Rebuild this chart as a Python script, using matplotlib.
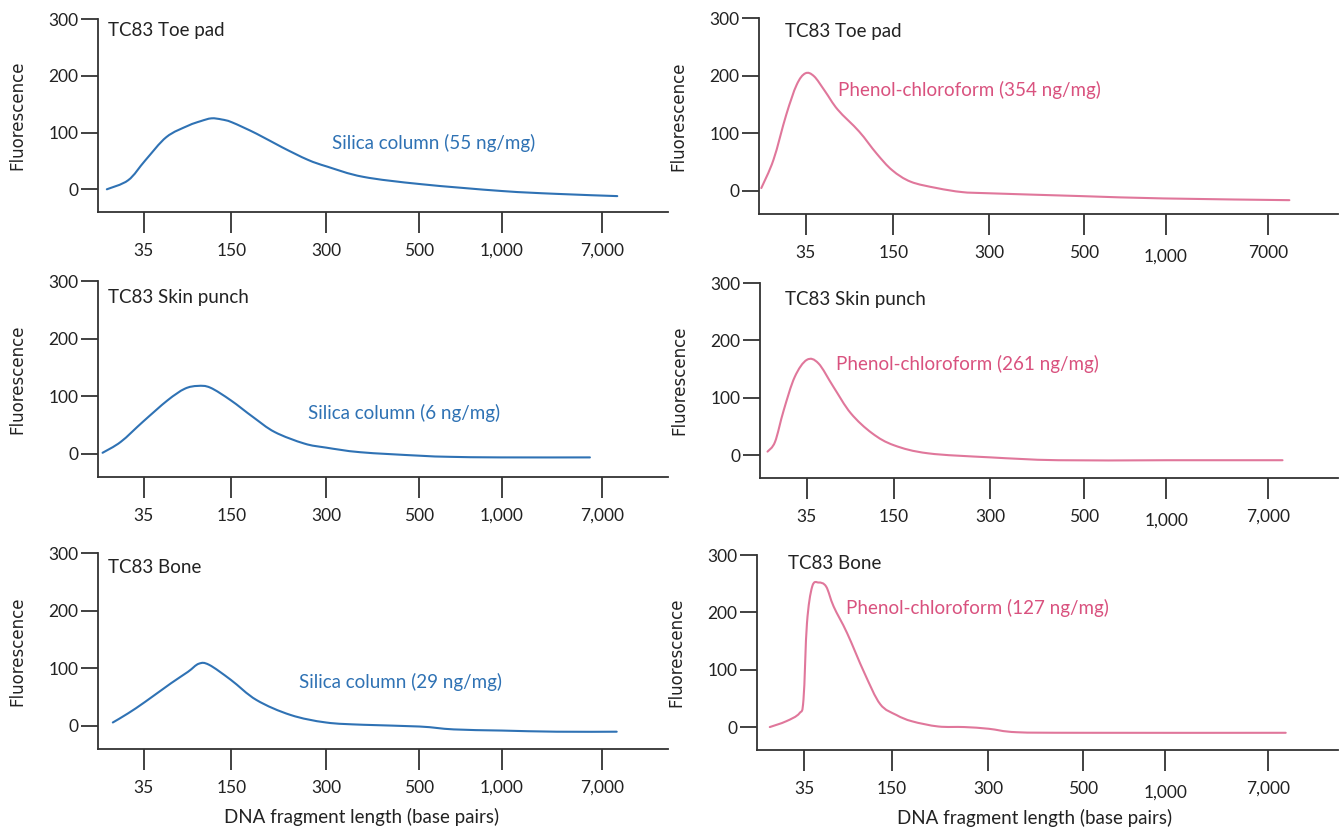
import matplotlib.pyplot as plt
from matplotlib.path import Path
from matplotlib.patches import PathPatch
from matplotlib.transforms import ScaledTranslation

plt.rcParams['font.family'] = ['Lato', 'DejaVu Sans']

# x positions are in panel units (axis runs 0..10), ticks are categorical labels
tick_pos_left = [0.80, 2.34, 4.0, 5.64, 7.08, 8.85]
tick_pos_right = [0.81, 2.32, 3.98, 5.61, 7.03, 8.79]
tick_labels = ['35', '150', '300', '500', '1,000', '7,000']
tick_labels_top_right = ['35', '150', '300', '500', '1,000', '7000']

y_ticks = [0, 100, 200, 300]

# Silica column curves (left column)
toe_silica_x = [0.155, 0.53, 0.83, 1.20, 1.58, 1.80, 1.99, 2.17, 2.35, 2.78, 3.23, 3.68,
                4.02, 4.65, 5.67, 7.08, 8.03, 9.11]
toe_silica_y = [0, 16, 51, 92, 112, 120, 125, 123, 118, 98, 74, 52, 40, 22, 9, -3, -8, -12]

skin_silica_x = [0.08, 0.40, 0.79, 1.22, 1.52, 1.75, 1.97, 2.33, 2.72, 3.10, 3.62, 4.0,
                 4.6, 5.63, 6.17, 7.07, 8.63]
skin_silica_y = [2, 21, 56, 93, 113, 118, 115, 93, 64, 38, 18, 11, 3, -3, -5, -6, -6]

bone_silica_x = [0.26, 0.53, 0.83, 1.28, 1.58, 1.77, 1.95, 2.33, 2.78, 3.38, 4.0, 4.66,
                 5.64, 6.24, 7.08, 8.05, 9.10]
bone_silica_y = [6, 22, 42, 74, 94, 108, 106, 80, 45, 19, 6, 2, -1, -6, -8, -10, -10]

# Phenol-chloroform curves (right column)
toe_phenol_x = [0.04, 0.25, 0.47, 0.65, 0.80, 0.95, 1.14, 1.36, 1.73, 2.03, 2.30, 2.62,
                3.07, 3.51, 3.96, 5.58, 6.99, 9.16]
toe_phenol_y = [5, 54, 132, 184, 204, 199, 173, 141, 103, 65, 36, 16, 5, -2, -4, -9, -13, -16]

skin_phenol_x = [0.13, 0.26, 0.41, 0.60, 0.81, 1.01, 1.27, 1.57, 1.94, 2.32, 2.91, 3.98,
                 5.16, 7.05, 9.04]
skin_phenol_y = [6, 23, 78, 136, 166, 160, 119, 73, 38, 17, 3, -4, -9, -9, -9]

bone_phenol_x = [0.22, 0.50, 0.73, 0.80, 0.86, 0.95, 1.06, 1.19, 1.32, 1.55, 1.85, 2.12,
                 2.40, 2.67, 3.12, 3.57, 3.99, 4.47, 5.62, 9.10]
bone_phenol_y = [0, 10, 24, 48, 181, 245, 252, 245, 210, 164, 94, 40, 21, 10, 1, 0, -3,
                 -9, -10, -10]

sample_names = ['TC83 Toe pad', 'TC83 Skin punch', 'TC83 Bone']
silica_labels = ['Silica column (55 ng/mg)', 'Silica column (6 ng/mg)',
                 'Silica column (29 ng/mg)']
phenol_labels = ['Phenol-chloroform (354 ng/mg)', 'Phenol-chloroform (261 ng/mg)',
                 'Phenol-chloroform (127 ng/mg)']

blue = '#2f72b4'
pink = '#e0779b'
pink_text = '#d9527f'
dark = '#333333'
text_c = '#222222'


def smooth_path(x, y):
    # Catmull-Rom through the read points, drawn as cubic bezier segments
    pts = list(zip(x, y))
    verts = [pts[0]]
    codes = [Path.MOVETO]
    n = len(pts)
    for i in range(n - 1):
        p0 = pts[i - 1] if i > 0 else pts[i]
        p1 = pts[i]
        p2 = pts[i + 1]
        p3 = pts[i + 2] if i + 2 < n else pts[i + 1]
        c1 = (p1[0] + (p2[0] - p0[0]) / 6, p1[1] + (p2[1] - p0[1]) / 6)
        c2 = (p2[0] - (p3[0] - p1[0]) / 6, p2[1] - (p3[1] - p1[1]) / 6)
        verts += [c1, c2, p2]
        codes += [Path.CURVE4] * 3
    return Path(verts, codes)


W, H = 1341, 830
fig = plt.figure(figsize=(W / 100, H / 100), dpi=100)

# panel boxes in pixels: left, right, top, bottom
boxes = [
    [(98, 668, 19, 212), (759, 1338, 18, 214)],
    [(98, 668, 281, 477), (760, 1338, 283, 478)],
    [(98, 668, 553, 749), (757, 1338, 555, 750)],
]

curves = [
    [(toe_silica_x, toe_silica_y), (toe_phenol_x, toe_phenol_y)],
    [(skin_silica_x, skin_silica_y), (skin_phenol_x, skin_phenol_y)],
    [(bone_silica_x, bone_silica_y), (bone_phenol_x, bone_phenol_y)],
]

# annotation spots (panel units, data y)
name_pos = [[(0.18, 280), (0.45, 276)], [(0.18, 272), (0.43, 272)], [(0.18, 274), (0.53, 286)]]
method_pos = [[(4.1, 81), (1.36, 175)], [(3.68, 71), (1.31, 158)], [(3.53, 76), (1.53, 208)]]

for r in range(3):
    for c in range(2):
        l, rt, t, b = boxes[r][c]
        ax = fig.add_axes([l / W, 1 - b / H, (rt - l) / W, (b - t) / H])
        x, y = curves[r][c]
        color = blue if c == 0 else pink
        ax.add_patch(PathPatch(smooth_path(x, y), fill=False, edgecolor=color, lw=1.5,
                               capstyle='round', joinstyle='round'))

        ax.set_xlim(0, 10)
        ax.set_ylim(-40, 300)
        for s in ['top', 'right']:
            ax.spines[s].set_visible(False)
        for s in ['left', 'bottom']:
            ax.spines[s].set_color(dark)
            ax.spines[s].set_linewidth(1.3)

        ax.set_yticks(y_ticks)
        ax.set_yticklabels([str(v) for v in y_ticks])
        if c == 0:
            ax.set_xticks(tick_pos_left)
            ax.set_xticklabels(tick_labels)
        else:
            ax.set_xticks(tick_pos_right)
            ax.set_xticklabels(tick_labels_top_right if r == 0 else tick_labels)
        ax.tick_params(axis='x', direction='out', length=15, width=1.3, color=dark,
                       pad=7, labelsize=12.5, labelcolor=text_c)
        ax.tick_params(axis='y', direction='out', length=12, width=1.3, color=dark,
                       pad=2, labelsize=12.5, labelcolor=text_c)

        if c == 1:
            lbl = ax.get_xticklabels()[4]
            lbl.set_transform(lbl.get_transform() +
                              ScaledTranslation(0, -4 / 100, fig.dpi_scale_trans))

        ax.set_ylabel('Fluorescence', fontsize=12, family=['DejaVu Sans'], color=text_c)
        ax.yaxis.set_label_coords(-72 / (rt - l), 0.5)

        if r == 2:
            ax.set_xlabel('DNA fragment length (base pairs)', fontsize=13.5, color=text_c)
            ax.xaxis.set_label_coords(0.463 if c == 0 else 0.478, -0.30)

        nx_, ny_ = name_pos[r][c]
        ax.text(nx_, ny_, sample_names[r], fontsize=13.5, color=text_c, va='center', ha='left')
        mx, my = method_pos[r][c]
        ax.text(mx, my, silica_labels[r] if c == 0 else phenol_labels[r], fontsize=13.5,
                color=blue if c == 0 else pink_text, va='center', ha='left')

fig.savefig('out.png', dpi=100, facecolor='white')
